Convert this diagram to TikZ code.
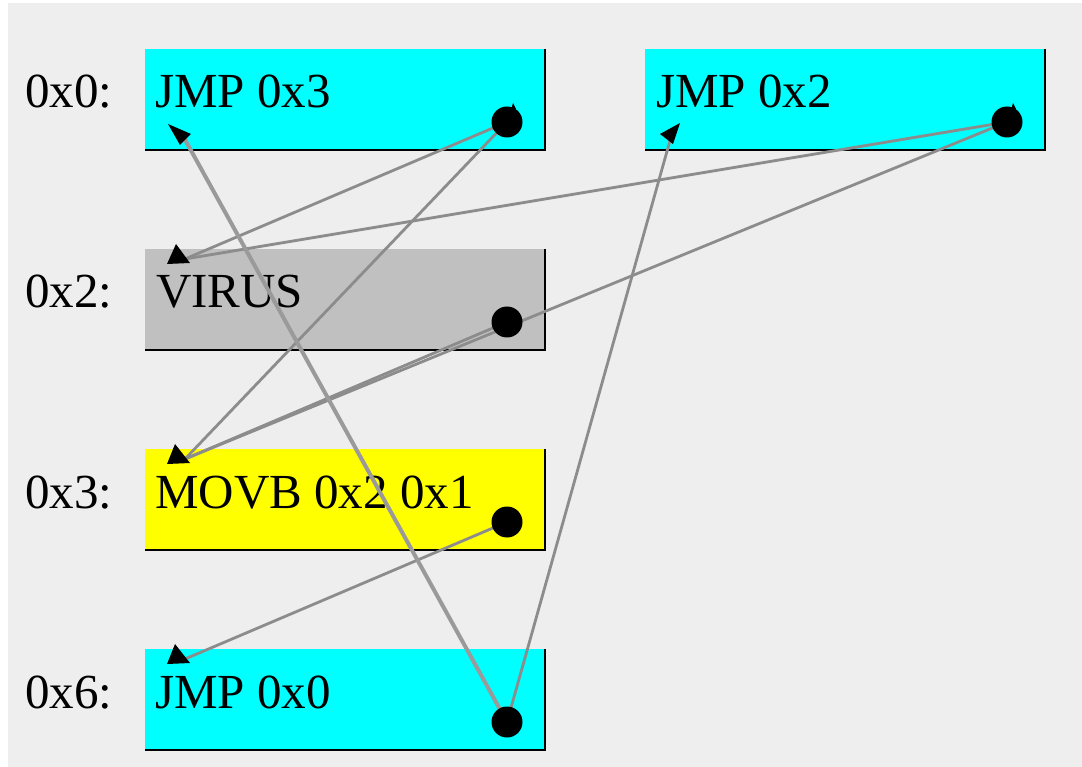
\documentclass[tikz,border=0pt]{standalone}
\usepackage{fontspec}
\setmainfont{Liberation Serif}
\definecolor{bgc}{HTML}{EEEEEE}
\definecolor{cyanb}{HTML}{00FFFF}
\definecolor{grayb}{HTML}{C0C0C0}
\definecolor{yellowb}{HTML}{FFFF00}
\definecolor{edgec}{HTML}{8C8C8C}
\definecolor{edgel}{HTML}{9A9A9A}
\begin{document}
\begin{tikzpicture}[x=1pt,y=-1pt,
  membox/.style={anchor=north west,minimum width=400pt,minimum height=101pt,inner sep=0pt,outer sep=0pt},
  boxtext/.style={anchor=base west,inner sep=0pt,font=\fontsize{49}{58}\selectfont},
  addr/.style={anchor=base west,inner sep=0pt,font=\fontsize{49}{58}\selectfont},
  shadowline/.style={draw=black,line width=2pt},
  flow/.style={draw=edgec,line width=2.8pt},
  flowthick/.style={draw=edgel,line width=4pt},
  dot/.style={circle,fill=black,minimum size=31pt,inner sep=0pt},
  tipfill/.style={fill=black}]
\useasboundingbox (0,0) rectangle (1082,767);
\fill[white] (0,0) rectangle (1082,767);
\fill[bgc] (8,3) rectangle (1082,767);

% boxes
\node[membox,fill=cyanb] (b0) at (145,49) {};
\node[membox,fill=cyanb] (r0) at (645,49) {};
\node[membox,fill=grayb] (b2) at (145,249) {};
\node[membox,fill=yellowb] (b3) at (145,449) {};
\node[membox,fill=cyanb] (b6) at (145,649) {};
\foreach \b in {b0,r0,b2,b3,b6}{
  \draw[shadowline] (\b.north east) -- (\b.south east) -- (\b.south west);
}

% texts
\node[addr] (l0) at (25,108) {0x0:};
\node[addr] (l2) at (25,308) {0x2:};
\node[addr] (l3) at (25,508) {0x3:};
\node[addr] (l6) at (25,708) {0x6:};
\node[boxtext] (t0) at (155,108) {JMP 0x3};
\node[boxtext] (tr) at (656,108) {JMP 0x2};
\node[boxtext] (t2) at (156,308) {VIRUS};
\node[boxtext] (t3) at (155,508) {MOVB 0x2 0x1};
\node[boxtext] (t6) at (155,708) {JMP 0x0};

% dot positions
\coordinate (d0) at (507,122);
\coordinate (dr) at (1007,122);
\coordinate (d2) at (507,322);
\coordinate (d3) at (507,522);
\coordinate (d6) at (507,722);

% arrow ends
\coordinate (a0) at (183,136);
\coordinate (ar) at (671,137);
\coordinate (a2) at (185,259);
\coordinate (a3) at (185,459);
\coordinate (a6) at (185,659);

% connectors
\draw[flow] (d0) -- (a2);
\draw[flow] (d0) -- (a3);
\draw[flow] (dr) -- (a2);
\draw[flow] (dr) -- (a3);
\draw[flow] (d2) -- (a3);
\draw[flow] (d3) -- (a6);
\draw[flowthick] (d6) -- (a0);
\draw[flow] (d6) -- (ar);

% arrow tips
\fill[tipfill] (168,124) -- (191,134) -- (180,145) -- cycle;
\fill[tipfill] (680,123) -- (660,134) -- (673,144) -- cycle;
\fill[tipfill] (176,244) -- (167,264) -- (190,263) -- cycle;
\fill[tipfill] (175,444) -- (167,464) -- (190,463) -- cycle;
\fill[tipfill] (175,644) -- (167,664) -- (190,663) -- cycle;

% dots
\node[dot] (n0) at (d0) {};
\node[dot] (nr) at (dr) {};
\node[dot] (n2) at (d2) {};
\node[dot] (n3) at (d3) {};
\node[dot] (n6) at (d6) {};
\fill[black] (511,110) -- (513,103) -- (516,109) -- cycle;
\fill[black] (1011,110) -- (1013,103) -- (1016,109) -- cycle;
\end{tikzpicture}
\end{document}
